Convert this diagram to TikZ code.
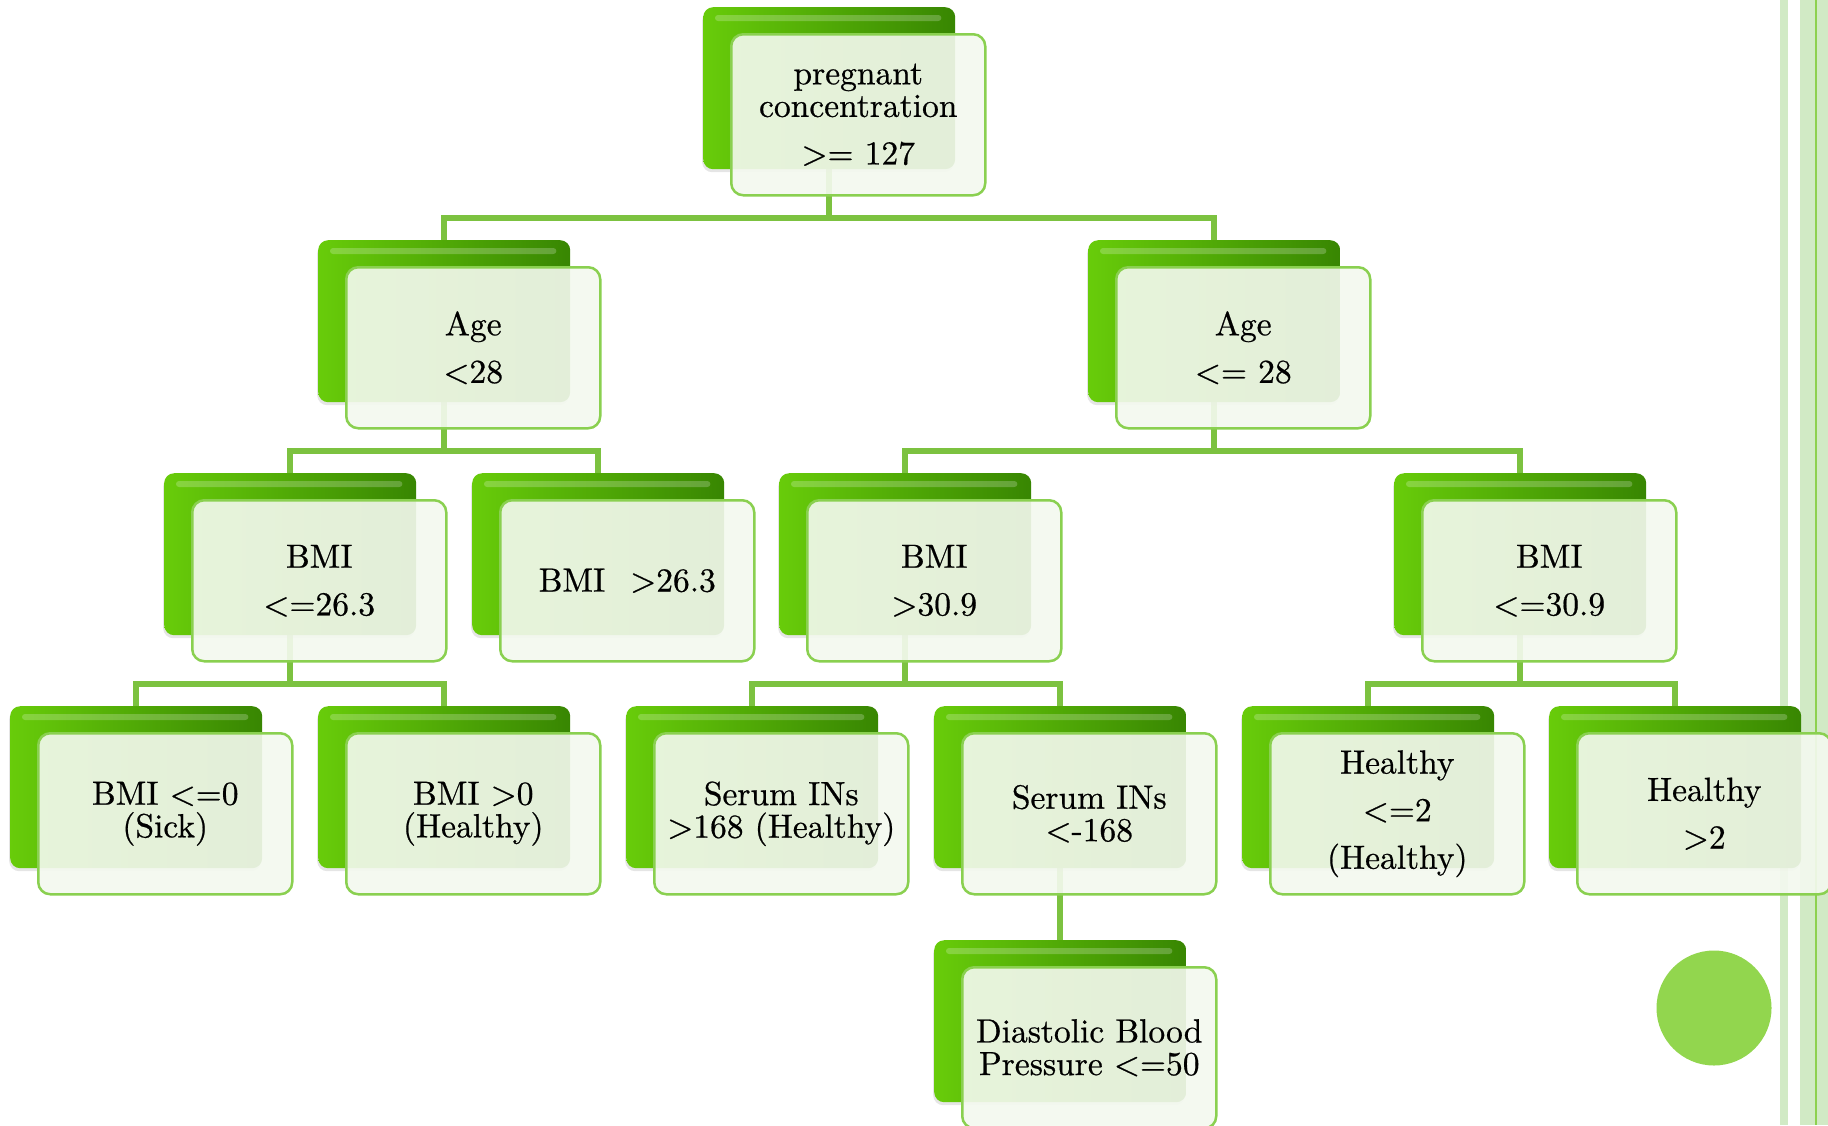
\documentclass[tikz,border=0pt]{standalone}
\usepackage{fontspec}
\setmainfont{lmroman10-regular}[Extension=.otf, FakeBold=0.6]
\usetikzlibrary{calc,shadows}
\definecolor{gbright}{RGB}{104,204,10}
\definecolor{gdark}{RGB}{56,134,2}
\definecolor{fborder}{RGB}{138,208,80}
\definecolor{ffill}{RGB}{244,249,239}
\definecolor{conncol}{RGB}{124,194,64}
\definecolor{stripe}{RGB}{209,234,197}
\definecolor{stripeline}{RGB}{141,209,79}
\definecolor{dotcol}{RGB}{146,214,78}
\pgfdeclarelayer{bg}
\pgfsetlayers{bg,main}
\tikzset{
 backbox/.style={anchor=north west, minimum width=252pt, minimum height=162pt, inner sep=0pt,
   rounded corners=10pt, left color=gbright, right color=gdark,
   drop shadow={opacity=0.2, shadow xshift=-1pt, shadow yshift=-3pt}},
 frontbox/.style={anchor=north west, minimum width=254pt, minimum height=161pt, inner sep=2pt,
   rounded corners=12pt, draw=fborder, line width=2.5pt, fill=ffill, fill opacity=0.91,
   text opacity=1, align=center, font=\fontsize{33.5}{32.6}\selectfont, text=black},
 gloss/.style={fill=white, fill opacity=0.22, rounded corners=3pt},
 conn/.style={draw=conncol, line width=5.5pt},
}
\newcommand\mkbox[4]{%
  \node[backbox] (#1b) at (#2,#3) {};
  \fill[gloss] ($(#1b.north west)+(12,8)$) rectangle ($(#1b.north east)+(-14,14)$);
  \node[frontbox] (#1) at ($(#1b.north west)+(27,26)$) {#4};
}
\newcommand\mklink[2]{%
  \draw[conn] (#1b.south) |- ($(#2b.north)+(0,-22)$) -- (#2b.north);
}
\begin{document}
\begin{tikzpicture}[x=1pt,y=-1pt]
\useasboundingbox (0,0) rectangle (1828,1125);
\clip (0,0) rectangle (1828,1125);
\begin{pgfonlayer}{bg}
  \fill[white] (0,0) rectangle (1828,1125);
  \fill[stripe] (1780,0) rectangle (1788,1125);
  \fill[stripe] (1800,0) rectangle (1828,1125);
  \fill[stripeline] (1815,0) rectangle (1817,1125);
  \fill[dotcol] (1714,1008) circle (57.5pt);
\end{pgfonlayer}

\mkbox{n0}{703}{7}{pregnant\\concentration\\[15pt]>= 127}
\mkbox{n1}{318}{240}{Age\\[15pt]<28}
\mkbox{n2}{1088}{240}{Age\\[15pt]<= 28}
\mkbox{n3}{164}{473}{BMI\\[15pt]<=26.3}
\mkbox{n4}{472}{473}{BMI\hspace{25pt}>26.3}
\mkbox{n5}{779}{473}{BMI\\[15pt]>30.9}
\mkbox{n6}{1394}{473}{BMI\\[15pt]<=30.9}
\mkbox{n7}{10}{706}{BMI <=0\\(Sick)}
\mkbox{n8}{318}{706}{BMI >0\\(Healthy)}
\mkbox{n9}{626}{706}{Serum INs\\>168 (Healthy)}
\mkbox{n10}{934}{706}{Serum INs\\<-168}
\mkbox{n11}{1242}{706}{Healthy\\[15pt]<=2\\[15pt](Healthy)}
\mkbox{n12}{1549}{706}{Healthy\\[15pt]>2}
\mkbox{n13}{934}{940}{Diastolic Blood\\Pressure <=50}

\begin{pgfonlayer}{bg}
  \mklink{n0}{n1}
  \mklink{n0}{n2}
  \mklink{n1}{n3}
  \mklink{n1}{n4}
  \mklink{n2}{n5}
  \mklink{n2}{n6}
  \mklink{n3}{n7}
  \mklink{n3}{n8}
  \mklink{n5}{n9}
  \mklink{n5}{n10}
  \mklink{n6}{n11}
  \mklink{n6}{n12}
  \mklink{n10}{n13}
\end{pgfonlayer}
\end{tikzpicture}
\end{document}
